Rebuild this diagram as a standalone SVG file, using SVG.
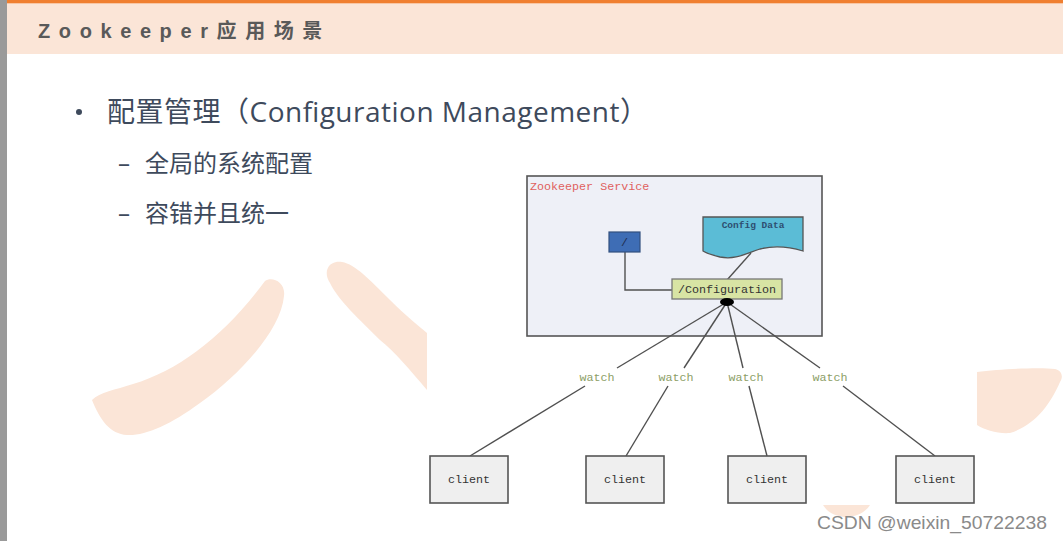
<svg xmlns="http://www.w3.org/2000/svg" width="1063" height="541" viewBox="0 0 1063 541">
  <style>
    .wm { fill: #FBE5D7; }
    .title { font-family: "Liberation Sans", "Noto Sans CJK SC", sans-serif; font-weight: bold; font-size: 20px; letter-spacing: 8.6px; fill: #595959; }
    .bullet { font-family: "Open Sans", "Noto Sans CJK SC", sans-serif; fill: #3E4A5C; }
    .mono { font-family: "Liberation Mono", "DejaVu Sans Mono", monospace; font-size: 11.7px; }
    .edge { fill: none; stroke: #505050; stroke-width: 1.4; }
    .client rect { fill: #EFEFEF; stroke: #555; stroke-width: 1.6; }
    .client text { fill: #333; text-anchor: middle; }
    .watch { fill: #8C9E66; text-anchor: middle; }
  </style>
  <rect x="0" y="0" width="1063" height="541" fill="#FFFFFF"/>
  <!-- header -->
  <rect x="7" y="3" width="1056" height="51" fill="#FBE5D7"/>
  <rect x="7" y="0" width="1056" height="3.3" fill="#F07F30"/>
  <rect x="0" y="0" width="7" height="541" fill="#9A9A9A"/>
  <text class="title" x="38" y="38">Zookeeper应用场景</text>

  <!-- watermark shapes -->
  <path class="wm" d="M265,281 C272,276 286,282 284,296 C281,330 240,375 200,403 C170,425 145,436 127,435 C110,434 100,420 92,400 C100,392 115,390 133,384 C180,370 225,335 265,281 Z"/>
  <path class="wm" d="M330,283 C322,270 330,260 342,262 C355,264 370,280 390,300 C405,315 420,327 427,333 L427,390 C410,370 395,352 380,340 C360,320 338,300 330,283 Z"/>
  <path class="wm" d="M977,372 C1000,369 1040,367 1055,369 C1063,371 1063,378 1060,382 C1050,405 1035,425 1010,433 C998,434 985,430 977,425 Z"/>
  <path class="wm" d="M823,505 H870 C865,513 855,517 846,517 C836,517 827,512 823,505 Z"/>

  <!-- bullet texts -->
  <circle cx="79" cy="112" r="3" fill="#3E4A5C"/>
  <text class="bullet" x="107" y="122" font-size="28" textLength="541" lengthAdjust="spacing">配置管理（Configuration Management）</text>
  <text class="bullet" x="118" y="172" font-size="24">–</text>
  <text class="bullet" x="145" y="172" font-size="24">全局的系统配置</text>
  <text class="bullet" x="118" y="222" font-size="24">–</text>
  <text class="bullet" x="145" y="222" font-size="24">容错并且统一</text>

  <!-- service container -->
  <g id="zookeeper-service">
    <rect x="527" y="176" width="295" height="160" fill="#EEF0F7" stroke="#555" stroke-width="1.6"/>
    <text class="mono" x="530" y="190" fill="#E0605E">Zookeeper Service</text>
  </g>

  <!-- connectors -->
  <g id="connectors">
    <polyline class="edge" points="625,252 625,290 672,290"/>
    <line class="edge" x1="751" y1="253" x2="727" y2="280"/>
    <line class="edge" x1="727" y1="302" x2="617" y2="368"/>
    <line class="edge" x1="727" y1="302" x2="684" y2="368"/>
    <line class="edge" x1="727" y1="302" x2="743" y2="368"/>
    <line class="edge" x1="727" y1="302" x2="820" y2="368"/>
    <line class="edge" x1="585" y1="386" x2="470" y2="456"/>
    <line class="edge" x1="668" y1="386" x2="626" y2="456"/>
    <line class="edge" x1="749" y1="386" x2="767" y2="456"/>
    <line class="edge" x1="843" y1="386" x2="935" y2="456"/>
    <text class="mono watch" x="597" y="381">watch</text>
    <text class="mono watch" x="676" y="381">watch</text>
    <text class="mono watch" x="746" y="381">watch</text>
    <text class="mono watch" x="830" y="381">watch</text>
  </g>

  <g id="root-node">
    <rect x="609" y="232" width="31" height="20" fill="#3E6DB5" stroke="#33507F" stroke-width="1.2"/>
    <text class="mono" x="624.5" y="246" fill="#1E2E50" text-anchor="middle">/</text>
  </g>

  <g id="config-data">
    <path d="M703,217 H803 V251 C790,247 775,245 760,249 C745,254 735,260 720,257 C712,255 706,253 703,251 Z" fill="#5BBCD6" stroke="#555" stroke-width="1.3"/>
    <text x="753" y="228" font-family="Liberation Mono, monospace" font-size="9.5" font-weight="bold" fill="#2E4E70" text-anchor="middle">Config Data</text>
  </g>

  <g id="configuration-node">
    <rect x="672" y="279" width="110" height="20" fill="#D8E4A4" stroke="#777" stroke-width="1.3"/>
    <text class="mono" x="727" y="293" fill="#333" text-anchor="middle">/Configuration</text>
    <ellipse cx="727" cy="302" rx="7" ry="4" fill="#000"/>
  </g>

  <g id="client-1" class="client">
    <rect x="430" y="456" width="78" height="47"/>
    <text class="mono" x="469" y="483">client</text>
  </g>
  <g id="client-2" class="client">
    <rect x="586" y="456" width="78" height="47"/>
    <text class="mono" x="625" y="483">client</text>
  </g>
  <g id="client-3" class="client">
    <rect x="728" y="456" width="78" height="47"/>
    <text class="mono" x="767" y="483">client</text>
  </g>
  <g id="client-4" class="client">
    <rect x="896" y="456" width="78" height="47"/>
    <text class="mono" x="935" y="483">client</text>
  </g>

  <text x="817" y="529" font-family="Liberation Sans, Arial, sans-serif" font-size="19" fill="#8A8A8A" textLength="230" lengthAdjust="spacingAndGlyphs">CSDN @weixin_50722238</text>
</svg>
